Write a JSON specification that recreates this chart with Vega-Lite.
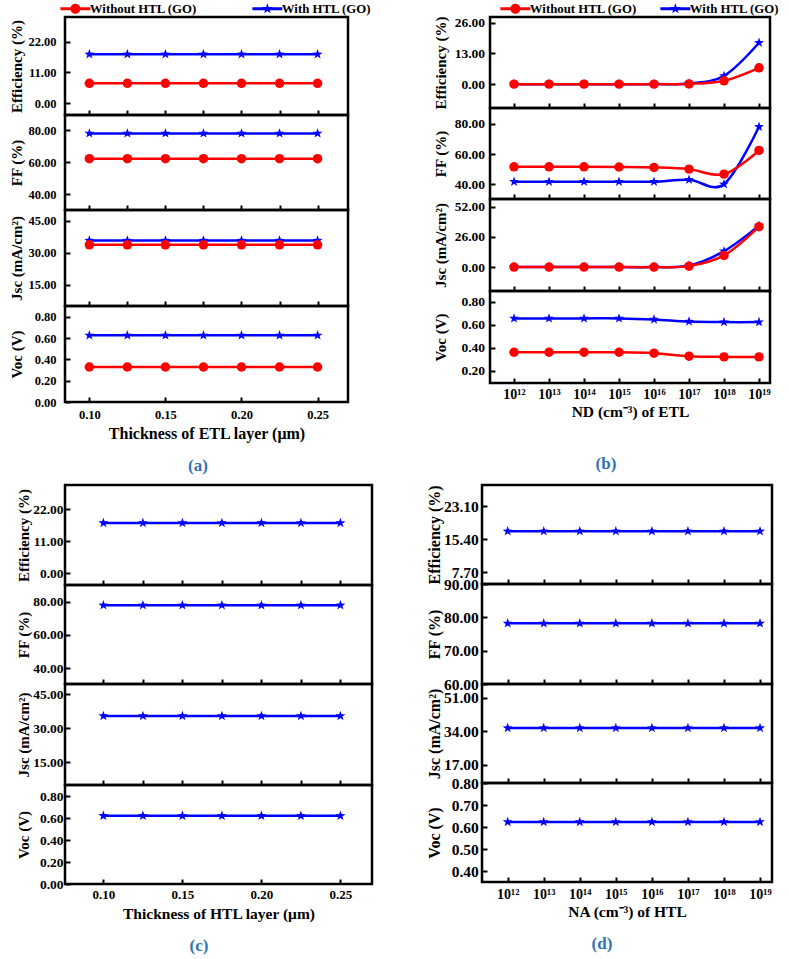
{
"$schema": "https://vega.github.io/schema/vega-lite/v6.json",
"padding": {"left": 7, "top": 0, "right": 5, "bottom": 0},
"background": "white",
"config": {
 "font": "Liberation Serif",
 "view": {"stroke": "#000000", "strokeWidth": 2.5},
 "axis": {"labelFont": "Liberation Serif", "labelFontWeight": "bold", "labelColor": "#000000", "titleFont": "Liberation Serif", "titleFontWeight": "bold", "titleColor": "#000000", "domain": false, "grid": false, "tickColor": "#000000", "tickWidth": 2, "tickSize": -5, "labelOverlap": false, "labelFlush": false},
 "axisY": {"titleBaseline": "bottom"},
 "legend": {"labelFont": "Liberation Serif", "labelFontWeight": "bold", "labelColor": "#000000", "labelFontSize": 12.8, "symbolSize": 100, "symbolStrokeWidth": 0},
 "title": {"font": "Liberation Serif", "fontWeight": "bold", "fontSize": 17, "color": "#2e74b5"}
},
"datasets": {
 "A": [
  {"x": 0.1, "series": "With HTL (GO)", "eff": 17.5, "ff": 78.1, "jsc": 35.7, "voc": 0.625},
  {"x": 0.125, "series": "With HTL (GO)", "eff": 17.5, "ff": 78.1, "jsc": 35.7, "voc": 0.625},
  {"x": 0.15, "series": "With HTL (GO)", "eff": 17.5, "ff": 78.1, "jsc": 35.7, "voc": 0.625},
  {"x": 0.175, "series": "With HTL (GO)", "eff": 17.5, "ff": 78.1, "jsc": 35.7, "voc": 0.625},
  {"x": 0.2, "series": "With HTL (GO)", "eff": 17.5, "ff": 78.1, "jsc": 35.7, "voc": 0.625},
  {"x": 0.225, "series": "With HTL (GO)", "eff": 17.5, "ff": 78.1, "jsc": 35.7, "voc": 0.625},
  {"x": 0.25, "series": "With HTL (GO)", "eff": 17.5, "ff": 78.1, "jsc": 35.7, "voc": 0.625},
  {"x": 0.1, "series": "Without HTL (GO)", "eff": 7.1, "ff": 62.3, "jsc": 33.7, "voc": 0.328},
  {"x": 0.125, "series": "Without HTL (GO)", "eff": 7.1, "ff": 62.3, "jsc": 33.7, "voc": 0.328},
  {"x": 0.15, "series": "Without HTL (GO)", "eff": 7.1, "ff": 62.3, "jsc": 33.7, "voc": 0.328},
  {"x": 0.175, "series": "Without HTL (GO)", "eff": 7.1, "ff": 62.3, "jsc": 33.7, "voc": 0.328},
  {"x": 0.2, "series": "Without HTL (GO)", "eff": 7.1, "ff": 62.3, "jsc": 33.7, "voc": 0.328},
  {"x": 0.225, "series": "Without HTL (GO)", "eff": 7.1, "ff": 62.3, "jsc": 33.7, "voc": 0.328},
  {"x": 0.25, "series": "Without HTL (GO)", "eff": 7.1, "ff": 62.3, "jsc": 33.7, "voc": 0.328}
 ],
 "B": [
  {"x": 1e12, "series": "With HTL (GO)", "eff": 0, "ff": 41.8, "jsc": 0, "voc": 0.655},
  {"x": 1e13, "series": "With HTL (GO)", "eff": 0, "ff": 41.8, "jsc": 0, "voc": 0.655},
  {"x": 1e14, "series": "With HTL (GO)", "eff": 0, "ff": 41.8, "jsc": 0, "voc": 0.655},
  {"x": 1e15, "series": "With HTL (GO)", "eff": 0, "ff": 41.8, "jsc": 0, "voc": 0.655},
  {"x": 1e16, "series": "With HTL (GO)", "eff": 0, "ff": 41.8, "jsc": 0, "voc": 0.646},
  {"x": 1e17, "series": "With HTL (GO)", "eff": 0.3, "ff": 43.1, "jsc": 1.3, "voc": 0.628},
  {"x": 1e18, "series": "With HTL (GO)", "eff": 3.5, "ff": 40.2, "jsc": 13.7, "voc": 0.623},
  {"x": 1e19, "series": "With HTL (GO)", "eff": 17.5, "ff": 78.0, "jsc": 35.7, "voc": 0.623},
  {"x": 1e12, "series": "Without HTL (GO)", "eff": 0, "ff": 51.6, "jsc": 0, "voc": 0.362},
  {"x": 1e13, "series": "Without HTL (GO)", "eff": 0, "ff": 51.6, "jsc": 0, "voc": 0.362},
  {"x": 1e14, "series": "Without HTL (GO)", "eff": 0, "ff": 51.6, "jsc": 0, "voc": 0.362},
  {"x": 1e15, "series": "Without HTL (GO)", "eff": 0, "ff": 51.5, "jsc": 0, "voc": 0.362},
  {"x": 1e16, "series": "Without HTL (GO)", "eff": 0, "ff": 51.2, "jsc": 0, "voc": 0.354},
  {"x": 1e17, "series": "Without HTL (GO)", "eff": 0.1, "ff": 50.1, "jsc": 0.8, "voc": 0.328},
  {"x": 1e18, "series": "Without HTL (GO)", "eff": 1.4, "ff": 46.8, "jsc": 10.0, "voc": 0.322},
  {"x": 1e19, "series": "Without HTL (GO)", "eff": 6.9, "ff": 62.4, "jsc": 34.8, "voc": 0.322}
 ],
 "C": [
  {"x": 0.1, "series": "With HTL (GO)", "eff": 17.3, "ff": 77.8, "jsc": 35.5, "voc": 0.62},
  {"x": 0.125, "series": "With HTL (GO)", "eff": 17.3, "ff": 77.8, "jsc": 35.5, "voc": 0.62},
  {"x": 0.15, "series": "With HTL (GO)", "eff": 17.3, "ff": 77.8, "jsc": 35.5, "voc": 0.62},
  {"x": 0.175, "series": "With HTL (GO)", "eff": 17.3, "ff": 77.8, "jsc": 35.5, "voc": 0.62},
  {"x": 0.2, "series": "With HTL (GO)", "eff": 17.3, "ff": 77.8, "jsc": 35.5, "voc": 0.62},
  {"x": 0.225, "series": "With HTL (GO)", "eff": 17.3, "ff": 77.8, "jsc": 35.5, "voc": 0.62},
  {"x": 0.25, "series": "With HTL (GO)", "eff": 17.3, "ff": 77.8, "jsc": 35.5, "voc": 0.62}
 ],
 "D": [
  {"x": 1e12, "series": "With HTL (GO)", "eff": 17.25, "ff": 78.2, "jsc": 35.7, "voc": 0.623},
  {"x": 1e13, "series": "With HTL (GO)", "eff": 17.25, "ff": 78.2, "jsc": 35.7, "voc": 0.623},
  {"x": 1e14, "series": "With HTL (GO)", "eff": 17.25, "ff": 78.2, "jsc": 35.7, "voc": 0.623},
  {"x": 1e15, "series": "With HTL (GO)", "eff": 17.25, "ff": 78.2, "jsc": 35.7, "voc": 0.623},
  {"x": 1e16, "series": "With HTL (GO)", "eff": 17.25, "ff": 78.2, "jsc": 35.7, "voc": 0.623},
  {"x": 1e17, "series": "With HTL (GO)", "eff": 17.25, "ff": 78.2, "jsc": 35.7, "voc": 0.623},
  {"x": 1e18, "series": "With HTL (GO)", "eff": 17.25, "ff": 78.2, "jsc": 35.7, "voc": 0.623},
  {"x": 1e19, "series": "With HTL (GO)", "eff": 17.25, "ff": 78.2, "jsc": 35.7, "voc": 0.623}
 ]
},
"columns": 2,
"align": "none",
"spacing": {"row": 9, "column": 51},
"resolve": {"scale": {"color": "independent", "shape": "independent"}, "legend": {"color": "independent", "shape": "independent"}},
"concat": [
  {"title": {"text": "(a)", "orient": "bottom", "anchor": "middle", "frame": "group", "offset": 15, "dx": 133},
   "spacing": 0, "bounds": "flush",
   "resolve": {"scale": {"color": "independent", "shape": "independent"}, "legend": {"color": "independent", "shape": "independent"}},
   "vconcat": [
    {"width": 283, "height": 98, "data": {"name": "A"},
     "encoding": {
      "x": {"field": "x", "type": "quantitative", "scale": {"domain": [0.084, 0.27], "nice": false, "zero": false}, "axis": {"values": [0.1, 0.125, 0.15, 0.175, 0.2, 0.225, 0.25], "labels": false, "title": null}},
      "y": {"field": "eff", "type": "quantitative", "scale": {"domain": [-4.2, 30.8], "nice": false, "zero": false}, "axis": {"values": [0, 11, 22], "format": ".2f", "title": "Efficiency (%)", "labelFontSize": 12.5, "titleFontSize": 15, "labelPadding": 14, "minExtent": 37, "maxExtent": 37, "titlePadding": 4}},
      "color": {"field": "series", "type": "nominal", "scale": {"domain": ["Without HTL (GO)", "With HTL (GO)"], "range": ["#ff0000", "#0000ff"]},
       "legend": {"title": null, "orient": "none", "legendX": 4, "legendY": -15, "direction": "horizontal", "columnPadding": 55, "labelOffset": 8,
        "encode": {"symbols": {"update": {
         "shape": {"signal": "datum.value === 'With HTL (GO)' ? 'M-3,-0.3H3V0.3H-3ZM0,-1.1L0.26,-0.36L1.05,-0.34L0.42,0.14L0.65,0.89L0,0.44L-0.65,0.89L-0.42,0.14L-1.05,-0.34L-0.26,-0.36Z' : 'M-3,-0.3H3V0.3H-3ZM-1,0A1,1,0,1,1,1,0A1,1,0,1,1,-1,0Z'"},
         "fill": {"signal": "datum.value === 'With HTL (GO)' ? '#0000ff' : '#ff0000'"},
         "stroke": {"value": "transparent"},
         "opacity": {"value": 1}
        }}}}}
     },
     "layer": [
      {"mark": {"type": "line", "strokeWidth": 2.5}, "encoding": {}},
      {"mark": {"type": "point", "filled": true, "size": 90, "opacity": 1},
       "encoding": {"shape": {"field": "series", "type": "nominal", "scale": {"domain": ["With HTL (GO)", "Without HTL (GO)"], "range": ["M0,-1.1L0.26,-0.36L1.05,-0.34L0.42,0.14L0.65,0.89L0,0.44L-0.65,0.89L-0.42,0.14L-1.05,-0.34L-0.26,-0.36Z", "circle"]}, "legend": null}}}
     ]},
    {"width": 283, "height": 95, "data": {"name": "A"},
     "encoding": {
      "x": {"field": "x", "type": "quantitative", "scale": {"domain": [0.084, 0.27], "nice": false, "zero": false}, "axis": {"values": [0.1, 0.125, 0.15, 0.175, 0.2, 0.225, 0.25], "labels": false, "title": null}},
      "y": {"field": "ff", "type": "quantitative", "scale": {"domain": [30.2, 89.6], "nice": false, "zero": false}, "axis": {"values": [40, 60, 80], "format": ".2f", "title": "FF (%)", "labelFontSize": 12.5, "titleFontSize": 15, "labelPadding": 14, "minExtent": 37, "maxExtent": 37, "titlePadding": 4}},
      "color": {"field": "series", "type": "nominal", "scale": {"domain": ["Without HTL (GO)", "With HTL (GO)"], "range": ["#ff0000", "#0000ff"]}, "legend": null}
     },
     "layer": [
      {"mark": {"type": "line", "strokeWidth": 2.5}, "encoding": {}},
      {"mark": {"type": "point", "filled": true, "size": 90, "opacity": 1},
       "encoding": {"shape": {"field": "series", "type": "nominal", "scale": {"domain": ["With HTL (GO)", "Without HTL (GO)"], "range": ["M0,-1.1L0.26,-0.36L1.05,-0.34L0.42,0.14L0.65,0.89L0,0.44L-0.65,0.89L-0.42,0.14L-1.05,-0.34L-0.26,-0.36Z", "circle"]}, "legend": null}}}
     ]},
    {"width": 283, "height": 96, "data": {"name": "A"},
     "encoding": {
      "x": {"field": "x", "type": "quantitative", "scale": {"domain": [0.084, 0.27], "nice": false, "zero": false}, "axis": {"values": [0.1, 0.125, 0.15, 0.175, 0.2, 0.225, 0.25], "labels": false, "title": null}},
      "y": {"field": "jsc", "type": "quantitative", "scale": {"domain": [5, 50], "nice": false, "zero": false}, "axis": {"values": [15, 30, 45], "format": ".2f", "title": "Jsc (mA/cm²)", "labelFontSize": 12.5, "titleFontSize": 15, "labelPadding": 14, "minExtent": 37, "maxExtent": 37, "titlePadding": 4}},
      "color": {"field": "series", "type": "nominal", "scale": {"domain": ["Without HTL (GO)", "With HTL (GO)"], "range": ["#ff0000", "#0000ff"]}, "legend": null}
     },
     "layer": [
      {"mark": {"type": "line", "strokeWidth": 2.5}, "encoding": {}},
      {"mark": {"type": "point", "filled": true, "size": 90, "opacity": 1},
       "encoding": {"shape": {"field": "series", "type": "nominal", "scale": {"domain": ["With HTL (GO)", "Without HTL (GO)"], "range": ["M0,-1.1L0.26,-0.36L1.05,-0.34L0.42,0.14L0.65,0.89L0,0.44L-0.65,0.89L-0.42,0.14L-1.05,-0.34L-0.26,-0.36Z", "circle"]}, "legend": null}}}
     ]},
    {"width": 283, "height": 96, "data": {"name": "A"},
     "encoding": {
      "x": {"field": "x", "type": "quantitative", "scale": {"domain": [0.084, 0.27], "nice": false, "zero": false}, "axis": {"values": [0.1, 0.15, 0.2, 0.25], "format": ".2f", "title": "Thickness of ETL layer (μm)", "labelFontSize": 12.5, "titleFontSize": 16, "labelPadding": 11, "titlePadding": 5}},
      "y": {"field": "voc", "type": "quantitative", "scale": {"domain": [0, 0.9], "nice": false, "zero": false}, "axis": {"values": [0, 0.2, 0.4, 0.6, 0.8], "format": ".2f", "title": "Voc (V)", "labelFontSize": 12.5, "titleFontSize": 15, "labelPadding": 14, "minExtent": 37, "maxExtent": 37, "titlePadding": 4}},
      "color": {"field": "series", "type": "nominal", "scale": {"domain": ["Without HTL (GO)", "With HTL (GO)"], "range": ["#ff0000", "#0000ff"]}, "legend": null}
     },
     "layer": [
      {"mark": {"type": "line", "strokeWidth": 2.5}, "encoding": {}},
      {"mark": {"type": "point", "filled": true, "size": 90, "opacity": 1},
       "encoding": {"shape": {"field": "series", "type": "nominal", "scale": {"domain": ["With HTL (GO)", "Without HTL (GO)"], "range": ["M0,-1.1L0.26,-0.36L1.05,-0.34L0.42,0.14L0.65,0.89L0,0.44L-0.65,0.89L-0.42,0.14L-1.05,-0.34L-0.26,-0.36Z", "circle"]}, "legend": null}}}
     ]}
   ]},
  {"title": {"text": "(b)", "orient": "bottom", "anchor": "middle", "frame": "group", "offset": 35, "dx": 116},
   "spacing": 0, "bounds": "flush",
   "resolve": {"scale": {"color": "independent", "shape": "independent"}, "legend": {"color": "independent", "shape": "independent"}},
   "vconcat": [
    {"width": 280, "height": 91, "data": {"name": "B"},
     "encoding": {
      "x": {"field": "x", "type": "quantitative", "scale": {"type": "log", "domain": [2.06e11, 2.06e19], "nice": false}, "axis": {"values": [1e12, 1e13, 1e14, 1e15, 1e16, 1e17, 1e18, 1e19], "labels": false, "title": null}},
      "y": {"field": "eff", "type": "quantitative", "scale": {"domain": [-10.1, 28.4], "nice": false, "zero": false}, "axis": {"values": [0, 13, 26], "format": ".2f", "title": "Efficiency (%)", "labelFontSize": 13.5, "titleFontSize": 15, "labelPadding": 10.5, "minExtent": 36, "maxExtent": 36, "titlePadding": 5.5}},
      "color": {"field": "series", "type": "nominal", "scale": {"domain": ["Without HTL (GO)", "With HTL (GO)"], "range": ["#ff0000", "#0000ff"]},
       "legend": {"title": null, "orient": "none", "legendX": 19, "legendY": -15, "direction": "horizontal", "columnPadding": 23, "labelOffset": 8,
        "encode": {"symbols": {"update": {
         "shape": {"signal": "datum.value === 'With HTL (GO)' ? 'M-3,-0.3H3V0.3H-3ZM0,-1.1L0.26,-0.36L1.05,-0.34L0.42,0.14L0.65,0.89L0,0.44L-0.65,0.89L-0.42,0.14L-1.05,-0.34L-0.26,-0.36Z' : 'M-3,-0.3H3V0.3H-3ZM-1,0A1,1,0,1,1,1,0A1,1,0,1,1,-1,0Z'"},
         "fill": {"signal": "datum.value === 'With HTL (GO)' ? '#0000ff' : '#ff0000'"},
         "stroke": {"value": "transparent"},
         "opacity": {"value": 1}
        }}}}}
     },
     "layer": [
      {"mark": {"type": "line", "strokeWidth": 2.5, "interpolate": "cardinal"}, "encoding": {}},
      {"mark": {"type": "point", "filled": true, "size": 90, "opacity": 1},
       "encoding": {"shape": {"field": "series", "type": "nominal", "scale": {"domain": ["With HTL (GO)", "Without HTL (GO)"], "range": ["M0,-1.1L0.26,-0.36L1.05,-0.34L0.42,0.14L0.65,0.89L0,0.44L-0.65,0.89L-0.42,0.14L-1.05,-0.34L-0.26,-0.36Z", "circle"]}, "legend": null}}}
     ]},
    {"width": 280, "height": 91, "data": {"name": "B"},
     "encoding": {
      "x": {"field": "x", "type": "quantitative", "scale": {"type": "log", "domain": [2.06e11, 2.06e19], "nice": false}, "axis": {"values": [1e12, 1e13, 1e14, 1e15, 1e16, 1e17, 1e18, 1e19], "labels": false, "title": null}},
      "y": {"field": "ff", "type": "quantitative", "scale": {"domain": [30.4, 90.4], "nice": false, "zero": false}, "axis": {"values": [40, 60, 80], "format": ".2f", "title": [" ", "FF (%)"], "titleLineHeight": 7, "labelFontSize": 13.5, "titleFontSize": 15, "labelPadding": 10.5, "minExtent": 36, "maxExtent": 36, "titlePadding": 5.5}},
      "color": {"field": "series", "type": "nominal", "scale": {"domain": ["Without HTL (GO)", "With HTL (GO)"], "range": ["#ff0000", "#0000ff"]}, "legend": null}
     },
     "layer": [
      {"mark": {"type": "line", "strokeWidth": 2.5, "interpolate": "cardinal"}, "encoding": {}},
      {"mark": {"type": "point", "filled": true, "size": 90, "opacity": 1},
       "encoding": {"shape": {"field": "series", "type": "nominal", "scale": {"domain": ["With HTL (GO)", "Without HTL (GO)"], "range": ["M0,-1.1L0.26,-0.36L1.05,-0.34L0.42,0.14L0.65,0.89L0,0.44L-0.65,0.89L-0.42,0.14L-1.05,-0.34L-0.26,-0.36Z", "circle"]}, "legend": null}}}
     ]},
    {"width": 280, "height": 92, "data": {"name": "B"},
     "encoding": {
      "x": {"field": "x", "type": "quantitative", "scale": {"type": "log", "domain": [2.06e11, 2.06e19], "nice": false}, "axis": {"values": [1e12, 1e13, 1e14, 1e15, 1e16, 1e17, 1e18, 1e19], "labels": false, "title": null}},
      "y": {"field": "jsc", "type": "quantitative", "scale": {"domain": [-20.6, 58.6], "nice": false, "zero": false}, "axis": {"values": [0, 26, 52], "format": ".2f", "title": "Jsc (mA/cm²)", "labelFontSize": 13.5, "titleFontSize": 15, "labelPadding": 10.5, "minExtent": 36, "maxExtent": 36, "titlePadding": 5.5}},
      "color": {"field": "series", "type": "nominal", "scale": {"domain": ["Without HTL (GO)", "With HTL (GO)"], "range": ["#ff0000", "#0000ff"]}, "legend": null}
     },
     "layer": [
      {"mark": {"type": "line", "strokeWidth": 2.5, "interpolate": "cardinal"}, "encoding": {}},
      {"mark": {"type": "point", "filled": true, "size": 90, "opacity": 1},
       "encoding": {"shape": {"field": "series", "type": "nominal", "scale": {"domain": ["With HTL (GO)", "Without HTL (GO)"], "range": ["M0,-1.1L0.26,-0.36L1.05,-0.34L0.42,0.14L0.65,0.89L0,0.44L-0.65,0.89L-0.42,0.14L-1.05,-0.34L-0.26,-0.36Z", "circle"]}, "legend": null}}}
     ]},
    {"width": 280, "height": 92, "data": {"name": "B"},
     "encoding": {
      "x": {"field": "x", "type": "quantitative", "scale": {"type": "log", "domain": [2.06e11, 2.06e19], "nice": false}, "axis": {"values": [1e12, 1e13, 1e14, 1e15, 1e16, 1e17, 1e18, 1e19], "labelExpr": "'10' + ['¹⁰','¹¹','¹²','¹³','¹⁴','¹⁵','¹⁶','¹⁷','¹⁸','¹⁹'][round(log(datum.value)/LN10) - 10]", "title": "ND (cm⁻³) of ETL", "labelFontSize": 14, "titleFontSize": 15.5, "labelPadding": 9, "titlePadding": 3}},
      "y": {"field": "voc", "type": "quantitative", "scale": {"domain": [0.096, 0.892], "nice": false, "zero": false}, "axis": {"values": [0.2, 0.4, 0.6, 0.8], "format": ".2f", "title": "Voc (V)", "labelFontSize": 13.5, "titleFontSize": 15, "labelPadding": 10.5, "minExtent": 36, "maxExtent": 36, "titlePadding": 5.5}},
      "color": {"field": "series", "type": "nominal", "scale": {"domain": ["Without HTL (GO)", "With HTL (GO)"], "range": ["#ff0000", "#0000ff"]}, "legend": null}
     },
     "layer": [
      {"mark": {"type": "line", "strokeWidth": 2.5, "interpolate": "cardinal"}, "encoding": {}},
      {"mark": {"type": "point", "filled": true, "size": 90, "opacity": 1},
       "encoding": {"shape": {"field": "series", "type": "nominal", "scale": {"domain": ["With HTL (GO)", "Without HTL (GO)"], "range": ["M0,-1.1L0.26,-0.36L1.05,-0.34L0.42,0.14L0.65,0.89L0,0.44L-0.65,0.89L-0.42,0.14L-1.05,-0.34L-0.26,-0.36Z", "circle"]}, "legend": null}}}
     ]}
   ]},
  {"title": {"text": "(c)", "orient": "bottom", "anchor": "middle", "frame": "group", "offset": 15.5, "dx": 134},
   "spacing": 0, "bounds": "flush",
   "resolve": {"scale": {"color": "independent", "shape": "independent"}, "legend": {"color": "independent", "shape": "independent"}},
   "vconcat": [
    {"width": 307, "height": 100, "data": {"name": "C"},
     "encoding": {
      "x": {"field": "x", "type": "quantitative", "scale": {"domain": [0.0757, 0.27], "nice": false, "zero": false}, "axis": {"values": [0.1, 0.125, 0.15, 0.175, 0.2, 0.225, 0.25], "labels": false, "title": null}},
      "y": {"field": "eff", "type": "quantitative", "scale": {"domain": [-4.1, 30.4], "nice": false, "zero": false}, "axis": {"values": [0, 11, 22], "format": ".2f", "title": "Efficiency (%)", "labelFontSize": 13.5, "titleFontSize": 15, "labelPadding": 7, "minExtent": 33, "maxExtent": 33, "titlePadding": 1}},
      "color": {"field": "series", "type": "nominal", "scale": {"domain": ["Without HTL (GO)", "With HTL (GO)"], "range": ["#ff0000", "#0000ff"]}, "legend": null}
     },
     "layer": [
      {"mark": {"type": "line", "strokeWidth": 2.5}, "encoding": {}},
      {"mark": {"type": "point", "filled": true, "size": 90, "opacity": 1},
       "encoding": {"shape": {"field": "series", "type": "nominal", "scale": {"domain": ["With HTL (GO)", "Without HTL (GO)"], "range": ["M0,-1.1L0.26,-0.36L1.05,-0.34L0.42,0.14L0.65,0.89L0,0.44L-0.65,0.89L-0.42,0.14L-1.05,-0.34L-0.26,-0.36Z", "circle"]}, "legend": null}}}
     ]},
    {"width": 307, "height": 99, "data": {"name": "C"},
     "encoding": {
      "x": {"field": "x", "type": "quantitative", "scale": {"domain": [0.0757, 0.27], "nice": false, "zero": false}, "axis": {"values": [0.1, 0.125, 0.15, 0.175, 0.2, 0.225, 0.25], "labels": false, "title": null}},
      "y": {"field": "ff", "type": "quantitative", "scale": {"domain": [30.4, 90], "nice": false, "zero": false}, "axis": {"values": [40, 60, 80], "format": ".2f", "title": "FF (%)", "labelFontSize": 13.5, "titleFontSize": 15, "labelPadding": 7, "minExtent": 33, "maxExtent": 33, "titlePadding": 1}},
      "color": {"field": "series", "type": "nominal", "scale": {"domain": ["Without HTL (GO)", "With HTL (GO)"], "range": ["#ff0000", "#0000ff"]}, "legend": null}
     },
     "layer": [
      {"mark": {"type": "line", "strokeWidth": 2.5}, "encoding": {}},
      {"mark": {"type": "point", "filled": true, "size": 90, "opacity": 1},
       "encoding": {"shape": {"field": "series", "type": "nominal", "scale": {"domain": ["With HTL (GO)", "Without HTL (GO)"], "range": ["M0,-1.1L0.26,-0.36L1.05,-0.34L0.42,0.14L0.65,0.89L0,0.44L-0.65,0.89L-0.42,0.14L-1.05,-0.34L-0.26,-0.36Z", "circle"]}, "legend": null}}}
     ]},
    {"width": 307, "height": 101, "data": {"name": "C"},
     "encoding": {
      "x": {"field": "x", "type": "quantitative", "scale": {"domain": [0.0757, 0.27], "nice": false, "zero": false}, "axis": {"values": [0.1, 0.125, 0.15, 0.175, 0.2, 0.225, 0.25], "labels": false, "title": null}},
      "y": {"field": "jsc", "type": "quantitative", "scale": {"domain": [5, 49.6], "nice": false, "zero": false}, "axis": {"values": [15, 30, 45], "format": ".2f", "title": "Jsc (mA/cm²)", "labelFontSize": 13.5, "titleFontSize": 15, "labelPadding": 7, "minExtent": 33, "maxExtent": 33, "titlePadding": 1}},
      "color": {"field": "series", "type": "nominal", "scale": {"domain": ["Without HTL (GO)", "With HTL (GO)"], "range": ["#ff0000", "#0000ff"]}, "legend": null}
     },
     "layer": [
      {"mark": {"type": "line", "strokeWidth": 2.5}, "encoding": {}},
      {"mark": {"type": "point", "filled": true, "size": 90, "opacity": 1},
       "encoding": {"shape": {"field": "series", "type": "nominal", "scale": {"domain": ["With HTL (GO)", "Without HTL (GO)"], "range": ["M0,-1.1L0.26,-0.36L1.05,-0.34L0.42,0.14L0.65,0.89L0,0.44L-0.65,0.89L-0.42,0.14L-1.05,-0.34L-0.26,-0.36Z", "circle"]}, "legend": null}}}
     ]},
    {"width": 307, "height": 99, "data": {"name": "C"},
     "encoding": {
      "x": {"field": "x", "type": "quantitative", "scale": {"domain": [0.0757, 0.27], "nice": false, "zero": false}, "axis": {"values": [0.1, 0.15, 0.2, 0.25], "format": ".2f", "title": "Thickness of HTL layer (μm)", "labelFontSize": 13, "titleFontSize": 15.5, "labelPadding": 9, "titlePadding": 5}},
      "y": {"field": "voc", "type": "quantitative", "scale": {"domain": [0, 0.9], "nice": false, "zero": false}, "axis": {"values": [0, 0.2, 0.4, 0.6, 0.8], "format": ".2f", "title": "Voc (V)", "labelFontSize": 13.5, "titleFontSize": 15, "labelPadding": 7, "minExtent": 33, "maxExtent": 33, "titlePadding": 1}},
      "color": {"field": "series", "type": "nominal", "scale": {"domain": ["Without HTL (GO)", "With HTL (GO)"], "range": ["#ff0000", "#0000ff"]}, "legend": null}
     },
     "layer": [
      {"mark": {"type": "line", "strokeWidth": 2.5}, "encoding": {}},
      {"mark": {"type": "point", "filled": true, "size": 90, "opacity": 1},
       "encoding": {"shape": {"field": "series", "type": "nominal", "scale": {"domain": ["With HTL (GO)", "Without HTL (GO)"], "range": ["M0,-1.1L0.26,-0.36L1.05,-0.34L0.42,0.14L0.65,0.89L0,0.44L-0.65,0.89L-0.42,0.14L-1.05,-0.34L-0.26,-0.36Z", "circle"]}, "legend": null}}}
     ]}
   ]},
  {"title": {"text": "(d)", "orient": "bottom", "anchor": "middle", "frame": "group", "offset": 15.5, "dx": 120},
   "spacing": 0, "bounds": "flush",
   "resolve": {"scale": {"color": "independent", "shape": "independent"}, "legend": {"color": "independent", "shape": "independent"}},
   "vconcat": [
    {"width": 290, "height": 99, "data": {"name": "D"},
     "encoding": {
      "x": {"field": "x", "type": "quantitative", "scale": {"type": "log", "domain": [1.94e11, 2.15e19], "nice": false}, "axis": {"values": [1e12, 1e13, 1e14, 1e15, 1e16, 1e17, 1e18, 1e19], "labels": false, "title": null}},
      "y": {"field": "eff", "type": "quantitative", "scale": {"domain": [5, 28], "nice": false, "zero": false}, "axis": {"values": [7.7, 15.4, 23.1], "format": ".2f", "title": "Efficiency (%)", "labelFontSize": 15.5, "titleFontSize": 16, "labelPadding": 8.7, "minExtent": 38.7, "maxExtent": 38.7, "titlePadding": 1}},
      "color": {"field": "series", "type": "nominal", "scale": {"domain": ["Without HTL (GO)", "With HTL (GO)"], "range": ["#ff0000", "#0000ff"]}, "legend": null}
     },
     "layer": [
      {"mark": {"type": "line", "strokeWidth": 2.5}, "encoding": {}},
      {"mark": {"type": "point", "filled": true, "size": 90, "opacity": 1},
       "encoding": {"shape": {"field": "series", "type": "nominal", "scale": {"domain": ["With HTL (GO)", "Without HTL (GO)"], "range": ["M0,-1.1L0.26,-0.36L1.05,-0.34L0.42,0.14L0.65,0.89L0,0.44L-0.65,0.89L-0.42,0.14L-1.05,-0.34L-0.26,-0.36Z", "circle"]}, "legend": null}}}
     ]},
    {"width": 290, "height": 100, "data": {"name": "D"},
     "encoding": {
      "x": {"field": "x", "type": "quantitative", "scale": {"type": "log", "domain": [1.94e11, 2.15e19], "nice": false}, "axis": {"values": [1e12, 1e13, 1e14, 1e15, 1e16, 1e17, 1e18, 1e19], "labels": false, "title": null}},
      "y": {"field": "ff", "type": "quantitative", "scale": {"domain": [60, 90], "nice": false, "zero": false}, "axis": {"values": [60, 70, 80, 90], "format": ".2f", "title": "FF (%)", "labelFontSize": 15.5, "titleFontSize": 16, "labelPadding": 8.7, "minExtent": 38.7, "maxExtent": 38.7, "titlePadding": 1}},
      "color": {"field": "series", "type": "nominal", "scale": {"domain": ["Without HTL (GO)", "With HTL (GO)"], "range": ["#ff0000", "#0000ff"]}, "legend": null}
     },
     "layer": [
      {"mark": {"type": "line", "strokeWidth": 2.5}, "encoding": {}},
      {"mark": {"type": "point", "filled": true, "size": 90, "opacity": 1},
       "encoding": {"shape": {"field": "series", "type": "nominal", "scale": {"domain": ["With HTL (GO)", "Without HTL (GO)"], "range": ["M0,-1.1L0.26,-0.36L1.05,-0.34L0.42,0.14L0.65,0.89L0,0.44L-0.65,0.89L-0.42,0.14L-1.05,-0.34L-0.26,-0.36Z", "circle"]}, "legend": null}}}
     ]},
    {"width": 290, "height": 99, "data": {"name": "D"},
     "encoding": {
      "x": {"field": "x", "type": "quantitative", "scale": {"type": "log", "domain": [1.94e11, 2.15e19], "nice": false}, "axis": {"values": [1e12, 1e13, 1e14, 1e15, 1e16, 1e17, 1e18, 1e19], "labels": false, "title": null}},
      "y": {"field": "jsc", "type": "quantitative", "scale": {"domain": [7.7, 58.1], "nice": false, "zero": false}, "axis": {"values": [17, 34, 51], "format": ".2f", "title": "Jsc (mA/cm²)", "labelFontSize": 15.5, "titleFontSize": 16, "labelPadding": 8.7, "minExtent": 38.7, "maxExtent": 38.7, "titlePadding": 1}},
      "color": {"field": "series", "type": "nominal", "scale": {"domain": ["Without HTL (GO)", "With HTL (GO)"], "range": ["#ff0000", "#0000ff"]}, "legend": null}
     },
     "layer": [
      {"mark": {"type": "line", "strokeWidth": 2.5}, "encoding": {}},
      {"mark": {"type": "point", "filled": true, "size": 90, "opacity": 1},
       "encoding": {"shape": {"field": "series", "type": "nominal", "scale": {"domain": ["With HTL (GO)", "Without HTL (GO)"], "range": ["M0,-1.1L0.26,-0.36L1.05,-0.34L0.42,0.14L0.65,0.89L0,0.44L-0.65,0.89L-0.42,0.14L-1.05,-0.34L-0.26,-0.36Z", "circle"]}, "legend": null}}}
     ]},
    {"width": 290, "height": 99, "data": {"name": "D"},
     "encoding": {
      "x": {"field": "x", "type": "quantitative", "scale": {"type": "log", "domain": [1.94e11, 2.15e19], "nice": false}, "axis": {"values": [1e12, 1e13, 1e14, 1e15, 1e16, 1e17, 1e18, 1e19], "labelExpr": "'10' + ['¹⁰','¹¹','¹²','¹³','¹⁴','¹⁵','¹⁶','¹⁷','¹⁸','¹⁹'][round(log(datum.value)/LN10) - 10]", "title": "NA (cm⁻³) of HTL", "labelFontSize": 14, "titleFontSize": 15.5, "labelPadding": 10, "titlePadding": 3}},
      "y": {"field": "voc", "type": "quantitative", "scale": {"domain": [0.35, 0.8], "nice": false, "zero": false}, "axis": {"values": [0.4, 0.5, 0.6, 0.7, 0.8], "format": ".2f", "title": "Voc (V)", "labelFontSize": 15.5, "titleFontSize": 16, "labelPadding": 8.7, "minExtent": 38.7, "maxExtent": 38.7, "titlePadding": 1}},
      "color": {"field": "series", "type": "nominal", "scale": {"domain": ["Without HTL (GO)", "With HTL (GO)"], "range": ["#ff0000", "#0000ff"]}, "legend": null}
     },
     "layer": [
      {"mark": {"type": "line", "strokeWidth": 2.5}, "encoding": {}},
      {"mark": {"type": "point", "filled": true, "size": 90, "opacity": 1},
       "encoding": {"shape": {"field": "series", "type": "nominal", "scale": {"domain": ["With HTL (GO)", "Without HTL (GO)"], "range": ["M0,-1.1L0.26,-0.36L1.05,-0.34L0.42,0.14L0.65,0.89L0,0.44L-0.65,0.89L-0.42,0.14L-1.05,-0.34L-0.26,-0.36Z", "circle"]}, "legend": null}}}
     ]}
   ]}
]
}
